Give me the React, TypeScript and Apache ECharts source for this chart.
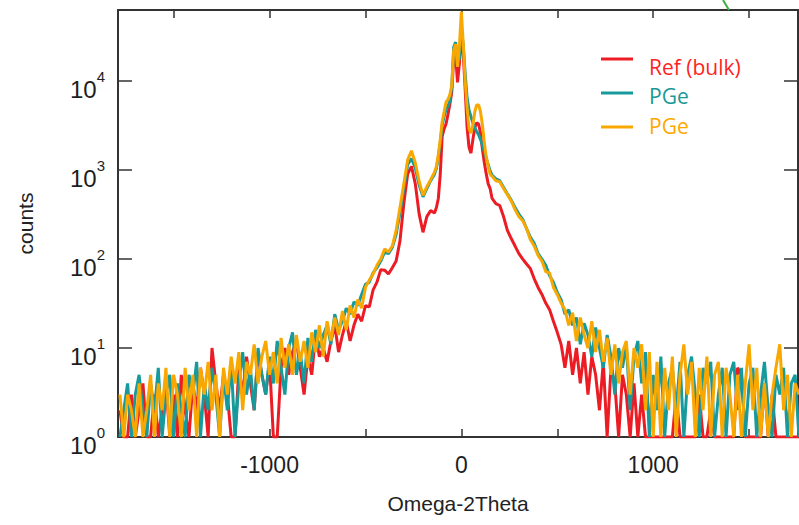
import React, { useEffect, useRef } from 'react';
import * as echarts from 'echarts';

// scan grid segments [start, end, step] (Omega-2Theta)
const xSegments: number[][] = [
  [-1780, -420, 20],
  [-400, -140, 20],
  [-130, 160, 10],
  [180, 400, 20],
  [420, 1760, 20],
];

// Ref (bulk)
const refLeft = [
  2, 1, 1, 3, 1, 2, 4, 1, 1, 3,
  1, 2, 4, 1, 3, 1, 5, 2, 1, 4,
  2, 6, 3, 1, 10, 4, 2, 5, 3, 1,
  1, 6, 3, 8, 4, 2, 9, 5, 3, 7,
  1, 1, 6, 10, 5, 9, 12, 6, 3, 8,
  5, 14, 8, 10, 7, 12, 18, 9, 14, 20,
  12, 18, 24, 20, 30, 29, 45, 55, 76,
];
const refCenter = [
  75, 68, 80, 95, 160, 420, 900, 1100, 700, 320, 200, 300, 350, 330,
  380, 480, 900, 2400, 2900, 3300, 4200, 5500, 7500, 18000, 20000, 9700, 16000, 32000, 20000,
  8000, 3000, 1800, 1550, 2200, 3000, 3400, 3300, 2600, 1700, 1200, 900, 700, 620, 480,
  420, 400, 300, 210, 170, 140, 115, 100, 88, 78, 60, 48,
];
const refRight = [
  40, 32, 27, 20, 15, 11, 6, 12, 5, 10,
  4, 9, 3, 8, 5, 2, 7, 1, 6, 4,
  1, 5, 3, 1, 4, 1, 3, 1, 1, 1,
  1, 1, 1, 1, 1, 3, 1, 1, 1, 1,
  1, 3, 1, 1, 2, 1, 1, 1, 1, 1,
  1, 6, 5, 1, 1, 1, 1, 1, 4, 1,
  3, 1, 1, 1, 1, 1, 1, 1,
];

// PGe (teal)
const pgeALeft = [
  1, 2, 4, 1, 3, 5, 2, 1, 4, 2,
  6, 1, 3, 5, 1, 4, 2, 1, 5, 3,
  7, 1, 4, 2, 6, 3, 1, 5, 2, 7,
  1, 4, 9, 3, 6, 2, 10, 5, 3, 8,
  4, 12, 6, 3, 10, 15, 5, 9, 4, 13,
  7, 16, 10, 14, 18, 11, 24, 16, 20, 28,
  24, 33, 30, 40, 52, 55, 70, 80, 95,
];
const pgeACenter = [
  120, 115, 135, 190, 330, 620, 1150, 1350, 1050, 680, 500, 620, 760, 900,
  1050, 1400, 2000, 3200, 4000, 4800, 5200, 6000, 8500, 24000, 27500, 16000, 18000, 40000, 25000,
  12000, 6500, 4700, 4000, 3400, 3000, 2700, 2500, 2200, 1900, 1600, 1350, 1150, 980, 880,
  800, 760, 640, 540, 460, 380, 320, 280, 220, 175, 150, 115,
];
const pgeARight = [
  100, 85, 65, 55, 42, 35, 24, 27, 18, 22,
  11, 19, 14, 8, 17, 10, 6, 14, 8, 3,
  10, 6, 11, 2, 8, 12, 4, 9, 1, 5,
  2, 8, 1, 4, 6, 2, 7, 1, 5, 8,
  3, 1, 6, 4, 7, 1, 3, 6, 1, 5,
  7, 2, 6, 1, 4, 6, 1, 3, 7, 2,
  1, 5, 3, 6, 1, 4, 5, 1,
];

// PGe (orange)
const pgeBLeft = [
  3, 1, 3, 2, 1, 4, 1, 2, 5, 1,
  4, 2, 6, 1, 5, 3, 1, 6, 2, 5,
  1, 6, 3, 7, 2, 5, 1, 6, 3, 8,
  4, 9, 2, 7, 5, 11, 4, 8, 12, 5,
  9, 4, 13, 6, 11, 5, 14, 7, 12, 6,
  15, 9, 18, 8, 20, 12, 22, 14, 26, 16,
  30, 22, 35, 28, 48, 58, 68, 85, 100,
];
const pgeBCenter = [
  130, 120, 140, 210, 380, 700, 1300, 1650, 1200, 750, 520, 650, 780, 950,
  1100, 1500, 2200, 3500, 4500, 5800, 6200, 7000, 9000, 22000, 26000, 14500, 25000, 60000, 26000,
  10000, 5000, 2900, 2600, 3200, 4500, 5400, 5400, 4500, 3200, 2000, 1400, 1100, 900, 850,
  760, 740, 620, 530, 450, 360, 300, 270, 220, 165, 140, 110,
];
const pgeBRight = [
  95, 72, 70, 48, 40, 32, 27, 18, 25, 12,
  22, 14, 10, 20, 9, 16, 7, 13, 5, 11,
  4, 9, 12, 3, 10, 6, 11, 2, 9, 1,
  7, 1, 6, 2, 8, 1, 5, 11, 3, 7,
  1, 6, 2, 8, 1, 5, 7, 1, 6, 3,
  1, 5, 1, 4, 11, 2, 6, 1, 4, 1,
  3, 6, 11, 2, 5, 1, 4, 3,
];

const seriesNames = ['Ref (bulk)', 'PGe', 'PGe'];
const seriesColors = ['#ec1c24', '#169a9b', '#f8a800'];
const legendTextColors = ['#ff1f1f', '#1a9898', '#ffa800'];
const xTickValues = [-1500, -1000, -500, 0, 500, 1000, 1500];
const xLabelValues = [-1000, 0, 1000];
const xAxisTitle = 'Omega-2Theta';
const yAxisTitle = 'counts';

function buildX(): number[] {
  const xs: number[] = [];
  for (const [a, b, s] of xSegments) {
    for (let v = a; v <= b; v += s) xs.push(v);
  }
  return xs;
}

export default function App() {
  const ref = useRef<HTMLDivElement>(null);
  useEffect(() => {
    if (!ref.current) return;
    const chart = echarts.init(ref.current, undefined, { renderer: 'svg' });
    const xs = buildX();
    const all = [
      [...refLeft, ...refCenter, ...refRight],
      [...pgeALeft, ...pgeACenter, ...pgeARight],
      [...pgeBLeft, ...pgeBCenter, ...pgeBRight],
    ];
    const axisColor = '#333333';
    const font = '"Liberation Sans", Arial, sans-serif';
    const xCommon = {
      type: 'value',
      min: -1790,
      max: 1755,
      splitLine: { show: false },
      axisLine: { show: true, onZero: false, lineStyle: { color: axisColor, width: 2 } },
      axisTick: { show: true, inside: true, length: 8, customValues: xTickValues, lineStyle: { color: axisColor, width: 1.5 } },
    };
    const yCommon = {
      type: 'log',
      logBase: 10,
      min: 1,
      max: 63000,
      splitLine: { show: false },
      minorTick: { show: false },
      axisLine: { show: true, onZero: false, lineStyle: { color: axisColor, width: 2 } },
      axisTick: { show: true, inside: true, length: 14, lineStyle: { color: axisColor, width: 1.5 } },
    };
    const legendY = [59, 93, 127];
    const legendTextY = [67, 96, 126];
    const graphic: any[] = [];
    seriesNames.forEach((n, i) => {
      graphic.push({
        type: 'line',
        shape: { x1: 601, y1: legendY[i], x2: 633, y2: legendY[i] },
        style: { stroke: seriesColors[i], lineWidth: 3 },
        z: 100,
      });
      graphic.push({
        type: 'text',
        x: 649,
        y: legendTextY[i],
        style: {
          text: n,
          fill: legendTextColors[i],
          fontSize: 21,
          lineHeight: 22,
          fontFamily: '"Open Sans", "Noto Sans", sans-serif',
          verticalAlign: 'middle',
        },
        z: 100,
      });
    });
    graphic.push({
      type: 'line',
      shape: { x1: 723, y1: 0, x2: 729, y2: 10 },
      style: { stroke: '#3bb03a', lineWidth: 2 },
      z: 100,
    });

    chart.setOption({
      animation: false,
      backgroundColor: '#ffffff',
      grid: { left: 118, right: 1, top: 10, bottom: 88 },
      xAxis: [
        {
          ...xCommon,
          position: 'bottom',
          name: xAxisTitle,
          nameLocation: 'middle',
          nameGap: 56,
          nameTextStyle: { fontSize: 21, color: '#222', fontFamily: font },
          axisLabel: {
            show: true,
            customValues: xLabelValues,
            fontSize: 23,
            color: '#1e1e1e',
            fontFamily: font,
            margin: 16,
            formatter: (v: number) => String(v),
          },
        },
        {
          ...xCommon,
          position: 'top',
          axisLabel: { show: false },
        },
      ],
      yAxis: [
        {
          ...yCommon,
          position: 'left',
          name: yAxisTitle,
          nameLocation: 'middle',
          nameGap: 82,
          nameRotate: 90,
          nameTextStyle: { fontSize: 21, color: '#222', fontFamily: font },
          axisLabel: {
            show: true,
            margin: 13,
            color: '#1e1e1e',
            fontFamily: font,
            padding: [8, 0, 0, 0],
            formatter: (v: number) => {
              const e = Math.log10(v);
              if (Math.abs(e - Math.round(e)) > 1e-6) return '';
              return '{b|10}{s|' + Math.round(e) + '}';
            },
            rich: {
              b: { fontSize: 24, fontFamily: font, color: '#1e1e1e', verticalAlign: 'bottom', padding: [8, 0, 0, 0] },
              s: { fontSize: 15, fontFamily: font, color: '#1e1e1e', verticalAlign: 'top' },
            },
          },
        },
        {
          ...yCommon,
          position: 'right',
          axisLabel: { show: false },
        },
      ],
      series: all.map((vals, i) => ({
        name: seriesNames[i] + (i === 2 ? ' 2' : ''),
        type: 'line',
        showSymbol: false,
        symbol: 'none',
        clip: true,
        lineStyle: { color: seriesColors[i], width: 3 },
        itemStyle: { color: seriesColors[i] },
        data: xs.map((x, j) => [x, vals[j]]),
        z: 2 + i,
      })),
      graphic,
    });
    return () => chart.dispose();
  }, []);
  return (
    <div
      ref={ref}
      style={{ position: 'fixed', left: 0, top: 0, width: 799, height: 525, background: '#fff' }}
    />
  );
}
